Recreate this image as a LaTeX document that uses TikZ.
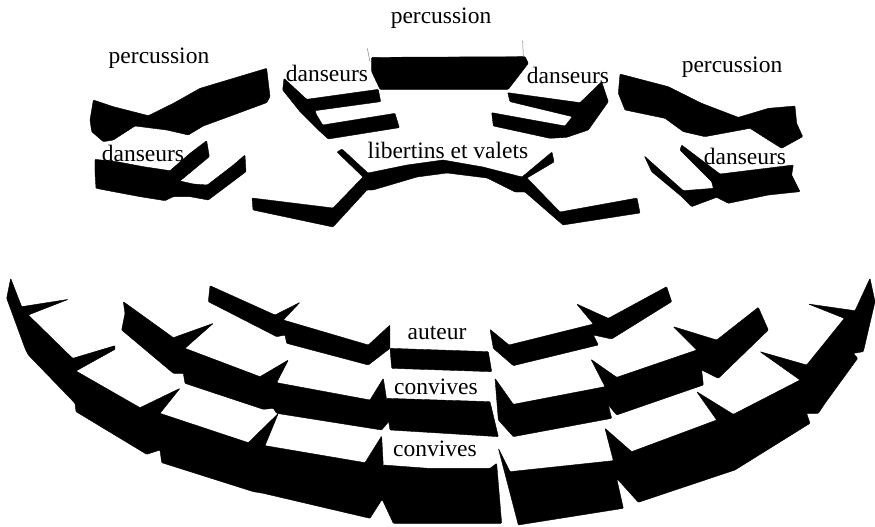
\documentclass[tikz,border=0pt]{standalone}
\usepackage{fontspec}
\setmainfont{Liberation Serif}
\tikzset{
  shape fill/.style={fill=black,draw=black,line width=0.4pt,line join=round,rounded corners=0.8pt},
  label text/.style={text=black,inner sep=0pt,font=\fontsize{23.5}{26}\selectfont},
  zoomA/.style={x=0.33333pt,y=-0.33333pt,shift={(0pt,0pt)}},
  zoomB/.style={x=0.33333pt,y=-0.33333pt,shift={(435pt,0pt)}},
  zoomC/.style={x=0.33333pt,y=-0.33333pt,shift={(0pt,-270pt)}},
  zoomD/.style={x=0.33333pt,y=-0.33333pt,shift={(435pt,-270pt)}},
  zoomE/.style={x=0.33333pt,y=-0.33333pt,shift={(340pt,0pt)}},
  zoomF/.style={x=0.33333pt,y=-0.33333pt,shift={(370pt,-320pt)}},
}
\begin{document}
\begin{tikzpicture}[x=1pt,y=-1pt]
\useasboundingbox (0,0) rectangle (875,527);
\fill[white] (0,0) rectangle (875,527);
% top-left
\begin{scope}[zoomA]
\fill[shape fill] (800,205)--(810,290)--(800,308)--(700,345)--(610,378)--(565,405)--(500,390)--(405,378)--(340,420)--(310,425)--(275,395)--(270,360)--(280,300)--(340,320)--(445,347)--(520,310)--(600,265)--(700,235)--cycle;
\fill[shape fill] (285,478)--(350,485)--(430,500)--(510,512)--(570,460)--(620,422)--(628,470)--(540,543)--(580,552)--(622,555)--(700,495)--(735,465)--(738,515)--(625,600)--(570,590)--(520,590)--(495,602)--(420,590)--(340,575)--(288,565)--(285,520)--cycle;
\fill[shape fill] (852,235)--(920,298)--(1135,268)--(1142,305)--(945,332)--(950,345)--(968,375)--(1185,340)--(1198,383)--(985,417)--(955,390)--(900,335)--(848,270)--cycle;
\end{scope}
% top-right
\begin{scope}[zoomB]
\fill[shape fill] (218,278)--(435,308)--(500,245)--(520,305)--(460,390)--(395,412)--(345,415)--(175,378)--(170,338)--(390,378)--(412,350)--(225,305)--cycle;
\fill[shape fill] (555,222)--(700,260)--(800,310)--(910,352)--(1000,325)--(1080,318)--(1085,370)--(1103,410)--(1040,445)--(1000,420)--(945,385)--(810,410)--(745,395)--(690,355)--(570,330)--(550,280)--cycle;
\fill[shape fill] (740,435)--(855,522)--(1075,495)--(1070,525)--(1095,575)--(1000,585)--(880,610)--(845,592)--(770,620)--(740,590)--(650,515)--(628,468)--(745,572)--(835,565)--(830,545)--(735,450)--cycle;
\end{scope}
% top centre
\begin{scope}[zoomE]
\fill[shape fill] (95,172)--(555,170)--(565,190)--(505,268)--(330,268)--(120,268)--(95,215)--cycle;
\draw[black!50,line width=0.5pt] (82,145)--(90,185) (548,122)--(550,170);
\end{scope}
% libertins band
\fill[shape fill] (252,198)--(333,208)--(363,177)--(337,152)--(342,149)--(368,173)--(407,165)--(443,160)--(483,167)--(522,177)--(552,152)--(554,162)--(527,178)--(560,212)--(637,198)--(640,213)--(563,225)--(525,192)--(515,192)--(487,178)--(447,173)--(417,177)--(373,190)--(367,190)--(333,227)--(253,210)--cycle;
% lower rows, left
\begin{scope}[zoomC]
\fill[shape fill] (32,25)--(65,110)--(205,88)--(85,135)--(218,265)--(345,227)--(345,238)--(228,303)--(420,413)--(540,355)--(480,430)--(745,518)--(835,430)--(795,527)--(1095,578)--(1145,498)--(1150,590)--(1160,700)--(1145,690)--(1110,745)--(790,670)--(760,665)--(485,578)--(480,540)--(440,553)--(228,425)--(225,400)--(85,255)--(75,235)--(20,85)--cycle;
\fill[shape fill] (370,95)--(520,203)--(640,160)--(555,235)--(780,320)--(865,270)--(830,338)--(1110,390)--(1150,325)--(1160,390)--(1170,450)--(1145,480)--(830,430)--(820,415)--(790,418)--(555,340)--(550,310)--(520,310)--(365,180)--(375,130)--cycle;
\fill[shape fill] (630,47)--(825,135)--(900,97)--(850,150)--(1105,225)--(1170,165)--(1170,235)--(1105,285)--(860,220)--(855,195)--(830,200)--(625,95)--cycle;
\end{scope}
% lower rows, centre
\begin{scope}[zoomF]
\fill[shape fill] (60,85)--(355,95)--(365,155)--(65,145)--cycle;
\fill[shape fill] (50,235)--(360,245)--(385,350)--(60,330)--(55,300)--cycle;
\fill[shape fill] (40,435)--(175,445)--(360,445)--(380,430)--(395,610)--(70,610)--(35,535)--cycle;
\end{scope}
% lower rows, right
\begin{scope}[zoomD]
\fill[shape fill] (190,535)--(225,605)--(535,572)--(510,475)--(590,545)--(845,450)--(785,365)--(895,433)--(1095,330)--(975,245)--(1115,285)--(1228,145)--(1120,102)--(1260,122)--(1305,25)--(1320,95)--(1285,245)--(1255,250)--(1268,265)--(1170,400)--(1150,430)--(1115,430)--(1125,460)--(900,600)--(610,697)--(545,625)--(565,715)--(250,765)--cycle;
\fill[shape fill] (180,325)--(235,403)--(510,350)--(468,268)--(545,322)--(785,240)--(715,170)--(845,210)--(970,112)--(1000,180)--(850,325)--(800,300)--(805,345)--(545,435)--(520,405)--(530,445)--(235,500)--(190,450)--cycle;
\fill[shape fill] (165,178)--(222,225)--(475,162)--(425,102)--(520,145)--(695,50)--(710,95)--(530,207)--(475,195)--(490,225)--(235,287)--(175,235)--cycle;
\end{scope}
% labels
\node[label text] (pc) at (441,18) {percussion};
\node[label text] (pl) at (159,58) {percussion};
\node[label text] (pr) at (732,67) {percussion};
\node[label text] (dtl) at (327,73) {danseurs};
\node[label text] (dtr) at (568,75) {danseurs};
\node[label text] (dl) at (143,153) {danseurs};
\node[label text] (dr) at (745,156) {danseurs};
\node[label text] (lib) at (448,150) {libertins et valets};
\node[label text] (aut) at (437,333) {auteur};
\node[label text] (c1) at (436,387) {convives};
\node[label text] (c2) at (435,449) {convives};
\end{tikzpicture}
\end{document}
